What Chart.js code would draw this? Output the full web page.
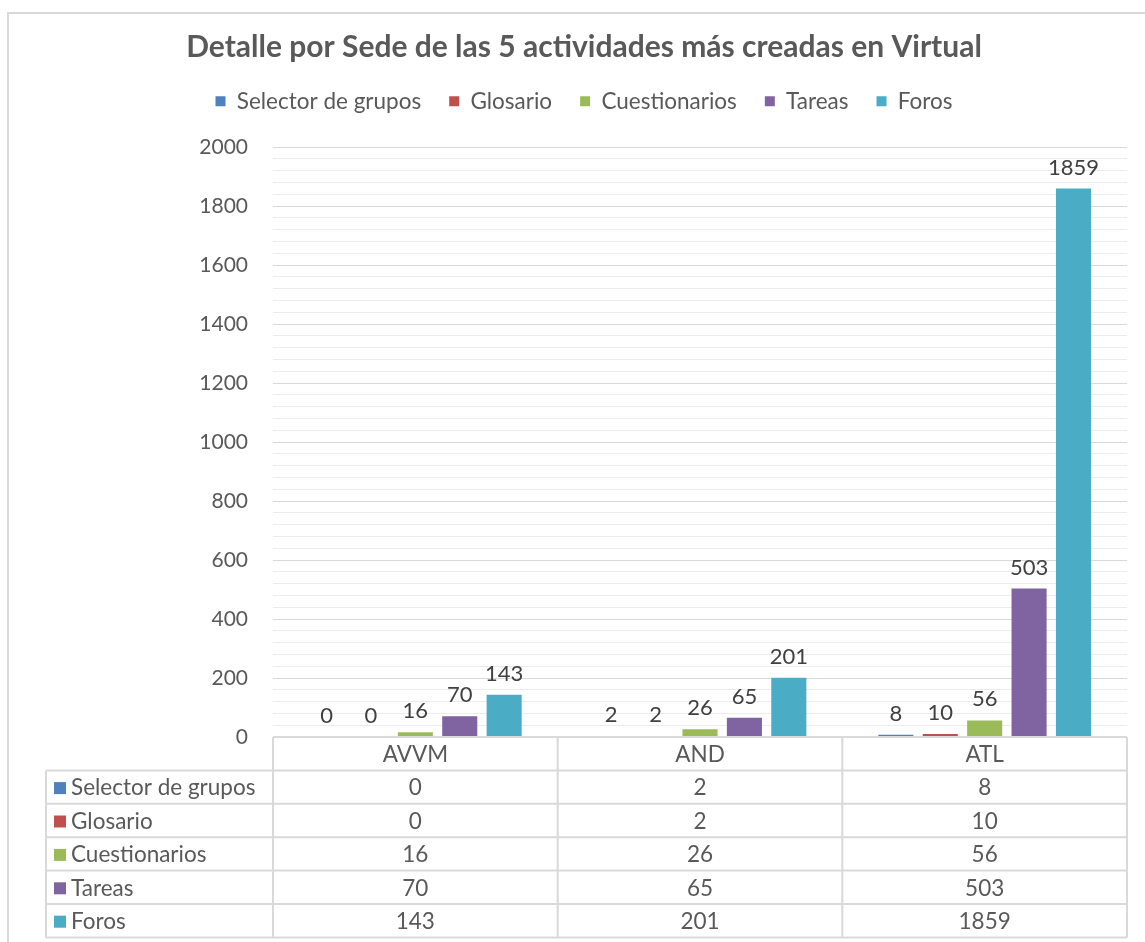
<!DOCTYPE html>
<html>
<head>
<meta charset="utf-8">
<script src="https://cdn.jsdelivr.net/npm/chart.js@4.4.1/dist/chart.umd.min.js"></script>
<style>
html,body{margin:0;padding:0;background:#fff;}
</style>
</head>
<body>
<canvas id="chart" width="1145" height="942"></canvas>
<script>
const sedes=['AVVM','AND','ATL']
const seriesNames=['Selector de grupos','Glosario','Cuestionarios','Tareas','Foros']
const selectorGrupos=[0,2,8]
const glosario=[0,2,10]
const cuestionarios=[16,26,56]
const tareas=[70,65,503]
const foros=[143,201,1859]
const yTickLabels=[0,200,400,600,800,1000,1200,1400,1600,1800,2000]
const colors=['#4f81bd','#c0504d','#9bbb59','#8064a2','#4bacc6']

const seriesValues=[selectorGrupos,glosario,cuestionarios,tareas,foros]

Chart.defaults.font.family='Lato'
Chart.defaults.color='#595959'

// frame around the whole picture
const frame={
    id:'frame',
    beforeDraw(chart){
        const ctx=chart.ctx
        ctx.save()
        ctx.strokeStyle='#d9d9d9'
        ctx.lineWidth=2
        ctx.beginPath()
        ctx.moveTo(8,chart.height+5)
        ctx.lineTo(8,13)
        ctx.lineTo(chart.width+5,13)
        ctx.stroke()
        ctx.restore()
    }
}

// extra room between legend and plot
const legendGap={
    id:'legendGap',
    beforeLayout(chart){
        const lg=chart.legend
        if(lg && !lg._gapPatched){
            const fit=lg.fit
            lg.fit=function(){fit.call(this);this.height+=24.5}
            lg._gapPatched=true
        }
    }
}

const valueLabels={
    id:'valueLabels',
    afterDatasetsDraw(chart){
        const ctx=chart.ctx
        ctx.save()
        ctx.font='22px Lato'
        ctx.fillStyle='#404040'
        ctx.textAlign='center'
        ctx.textBaseline='alphabetic'
        chart.data.datasets.forEach((ds,i)=>{
            chart.getDatasetMeta(i).data.forEach((bar,j)=>{
                ctx.fillText(String(ds.data[j]),bar.x,bar.y-14)
            })
        })
        ctx.restore()
    }
}

// data table under the plot, aligned to the category scale
const dataTable={
    id:'dataTable',
    afterDraw(chart){
        const ctx=chart.ctx
        const x=chart.scales.x
        const colW=x.width/sedes.length
        const top=chart.chartArea.bottom
        const rowH=33.4
        const left=46
        const nRows=seriesNames.length+1
        ctx.save()
        ctx.strokeStyle='#d9d9d9'
        ctx.lineWidth=2
        ctx.beginPath()
        for(let k=0;k<=nRows;k++){
            const y=top+k*rowH
            ctx.moveTo(k===0?x.left:left,y)
            ctx.lineTo(x.right,y)
        }
        ctx.moveTo(left,top+rowH)
        ctx.lineTo(left,top+nRows*rowH)
        for(let i=0;i<=sedes.length;i++){
            const xx=x.left+i*colW
            ctx.moveTo(xx,top)
            ctx.lineTo(xx,top+nRows*rowH)
        }
        ctx.stroke()

        ctx.font='22.5px Lato'
        ctx.fillStyle='#595959'
        ctx.textBaseline='middle'
        ctx.textAlign='center'
        sedes.forEach((s,i)=>{
            ctx.fillText(s,x.getPixelForValue(i),top+rowH/2+1)
        })
        seriesNames.forEach((name,r)=>{
            const cy=top+(r+1.5)*rowH+1
            ctx.fillStyle=colors[r]
            ctx.fillRect(left+8,cy-6,12,12)
            ctx.fillStyle='#595959'
            ctx.textAlign='left'
            ctx.fillText(name,left+25,cy)
            ctx.textAlign='center'
            seriesValues[r].forEach((v,i)=>{
                ctx.fillText(String(v),x.getPixelForValue(i),cy)
            })
        })
        ctx.restore()
    }
}

const ctx=document.getElementById('chart').getContext('2d')
new Chart(ctx,{
    type:'bar',
    data:{
        labels:sedes,
        datasets:seriesNames.map((name,i)=>({
            label:name,
            data:seriesValues[i],
            backgroundColor:colors[i],
            borderWidth:0,
            categoryPercentage:0.78,
            barPercentage:0.79
        }))
    },
    options:{
        responsive:false,
        animation:false,
        layout:{padding:{left:41,right:18,top:0,bottom:205}},
        scales:{
            x:{display:false},
            y:{
                min:0,
                max:2000,
                afterFit(scale){scale.width=232},
                border:{display:false},
                grid:{
                    drawTicks:false,
                    lineWidth:1,
                    color:c=>c.tick && yTickLabels.includes(c.tick.value)?'#d9d9d9':'#ececec'
                },
                ticks:{
                    stepSize:40,
                    autoSkip:false,
                    maxTicksLimit:100,
                    padding:25,
                    color:'#595959',
                    font:{size:21},
                    callback:v=>yTickLabels.includes(v)?String(v):''
                }
            }
        },
        plugins:{
            title:{
                display:true,
                text:'Detalle por Sede de las 5 actividades más creadas en Virtual',
                color:'#595959',
                font:{size:30,weight:'bold',lineHeight:1},
                padding:{top:32,bottom:0}
            },
            legend:{
                position:'top',
                labels:{
                    boxWidth:10,
                    boxHeight:10,
                    padding:28,
                    color:'#595959',
                    font:{size:22.5}
                }
            },
            tooltip:{enabled:false}
        }
    },
    plugins:[frame,legendGap,valueLabels,dataTable]
})
</script>
</body>
</html>
